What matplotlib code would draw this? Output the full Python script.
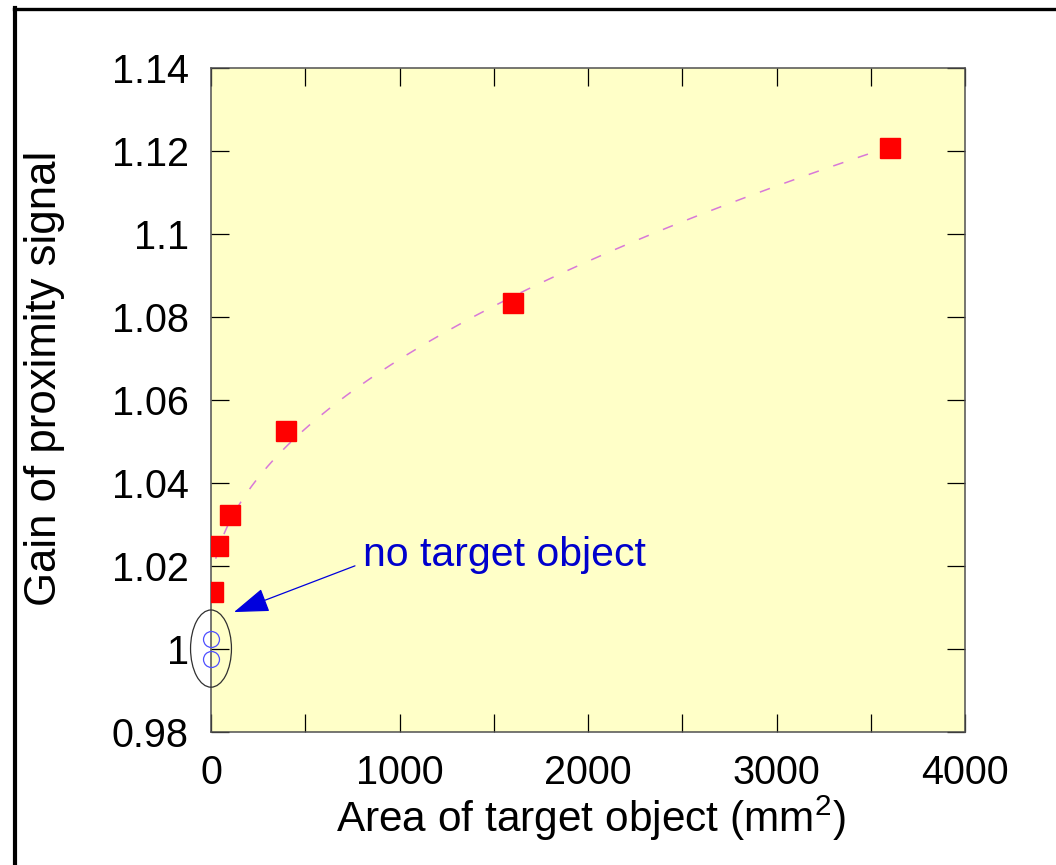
import numpy as np
import matplotlib
matplotlib.use("Agg")
import matplotlib.pyplot as plt
from matplotlib.patches import Ellipse
from matplotlib.lines import Line2D
from matplotlib.ticker import MultipleLocator

plt.rcParams['font.family'] = ['Liberation Sans', 'DejaVu Sans']
plt.rcParams['mathtext.default'] = 'regular'

# measured gain vs. target area
area = [9, 36, 100, 400, 1600, 3600]
gain = [1.0137, 1.0248, 1.0322, 1.0525, 1.0833, 1.1207]

# reference readings without a target
ref_area = [0, 0]
ref_gain = [1.0025, 0.9975]

xticks = [0, 1000, 2000, 3000, 4000]
yticks = [0.98, 1.0, 1.02, 1.04, 1.06, 1.08, 1.1, 1.12, 1.14]
ytick_labels = ['0.98', '1', '1.02', '1.04', '1.06', '1.08', '1.1', '1.12', '1.14']

fig = plt.figure(figsize=(10.56, 8.65), dpi=100)
fig.patch.set_facecolor('white')

# outer frame (top and left edges)
fig.add_artist(Line2D([14 / 1056, 1], [1 - 9 / 865, 1 - 9 / 865], color='black', lw=2.4))
fig.add_artist(Line2D([15 / 1056, 15 / 1056], [0, 1 - 8 / 865], color='black', lw=3))

ax = fig.add_axes([211 / 1056, 133 / 865, 754 / 1056, 664 / 865])
ax.set_facecolor('#FFFFC8')

# trend line: gain linear in sqrt(area)
coef = np.polyfit(np.sqrt(area), gain, 1)
xf = np.linspace(25, max(area), 300)
ax.plot(xf, np.polyval(coef, np.sqrt(xf)), color='#D878D8', lw=1.1,
        linestyle=(0, (7, 10)), zorder=2)

ax.plot(area, gain, 's', color='#FF0000', markersize=13.8, zorder=3)
ax.plot(ref_area, ref_gain, 'o', mfc='none', mec='#5050FF', mew=0.9,
        markersize=11.5, zorder=4, clip_on=False)

ax.add_patch(Ellipse((0, 1.0001), 217, 0.0186, fill=False, edgecolor='#303030',
                     lw=0.9, clip_on=False, zorder=4))

ax.annotate('no target object', xy=(122, 1.0089), xytext=(806, 1.0226),
            color='#0000CC', fontsize=29.5, ha='left', va='center',
            arrowprops=dict(arrowstyle='-|>,head_length=0.75,head_width=0.26',
                            color='#0000DD', lw=0.9, shrinkA=4, shrinkB=0,
                            relpos=(0, 0.3)))

ax.set_xlim(0, 4000)
ax.set_ylim(0.98, 1.14)
ax.set_xticks(xticks)
ax.xaxis.set_minor_locator(MultipleLocator(500))
ax.set_yticks(yticks)
ax.set_yticklabels(ytick_labels)

ax.tick_params(which='both', direction='in', top=True, right=True,
               length=13, width=0.9, color='black')
ax.tick_params(axis='both', which='major', labelsize=28.5, pad=16)
for s in ax.spines.values():
    s.set_color('#505050')
    s.set_linewidth(1.1)

ax.set_xlabel('Area of target object (mm$^2$)', fontsize=30.5)
ax.set_ylabel('Gain of proximity signal', fontsize=31.5)
ax.xaxis.set_label_coords(0.504, -0.093)
ax.yaxis.set_label_coords(-0.194, 0.533)

fig.savefig('out.png', dpi=100)
